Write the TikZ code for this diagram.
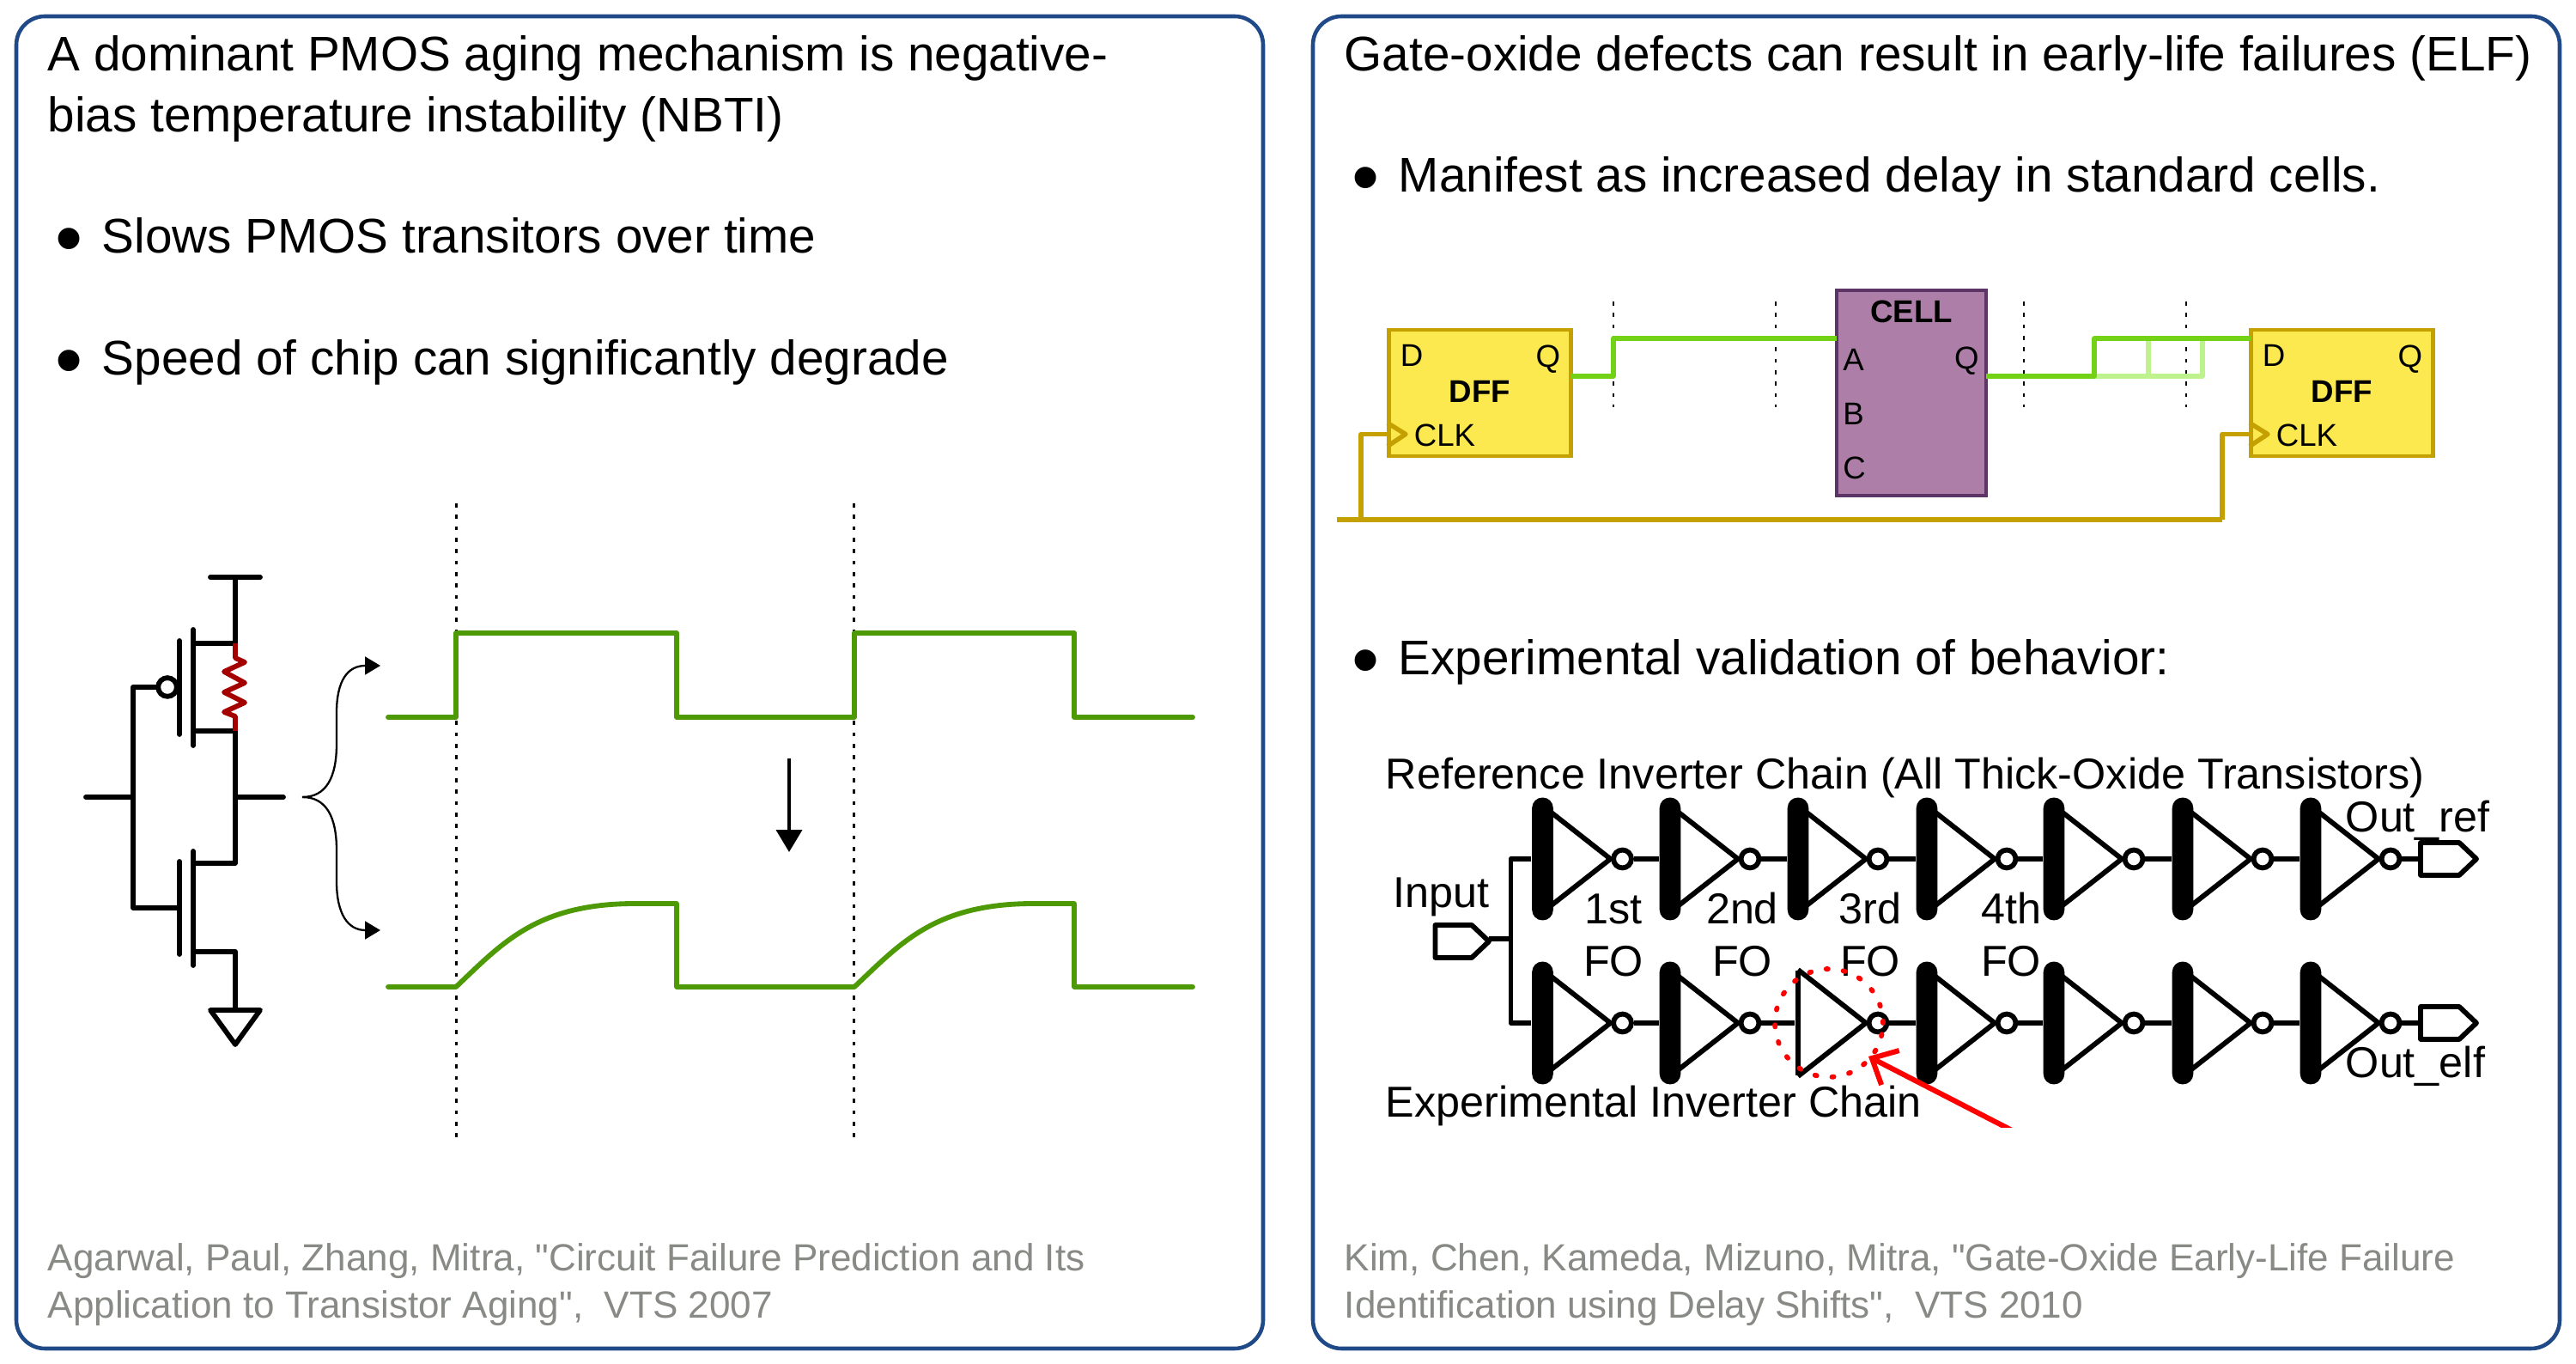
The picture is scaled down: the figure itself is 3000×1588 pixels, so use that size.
\documentclass[tikz,border=0pt]{standalone}
\usepackage{fontspec}
\setmainfont{Liberation Sans}[Ligatures=TeXOff]
\usepackage{xcolor}
\usetikzlibrary{arrows.meta,positioning,calc}
\definecolor{panelblue}{HTML}{204A87}
\definecolor{citegray}{HTML}{888A85}
\definecolor{wavegreen}{HTML}{4E9A06}
\definecolor{siggreen}{HTML}{73D216}
\definecolor{fadegreen}{HTML}{BEF28C}
\definecolor{dffyellow}{HTML}{FCE94F}
\definecolor{dffedge}{HTML}{C4A000}
\definecolor{cellplum}{HTML}{AD7FA8}
\definecolor{celledge}{HTML}{5C3566}
\definecolor{resred}{HTML}{A40000}
\tikzset{
	panel/.style={draw=panelblue, line width=1.1pt, rounded corners=8pt},
	txt/.style={anchor=base west, inner sep=0pt, font=\fontsize{13.6}{16}\selectfont},
	bul/.style={anchor=base, inner sep=0pt, font=\fontsize{22}{22}\selectfont},
	cite/.style={txt, text=citegray, font=\fontsize{10.57}{13}\selectfont},
	ckt/.style={line width=1.4pt, line cap=round, line join=round},
	wave/.style={draw=wavegreen, line width=1.4pt, line cap=round, line join=round},
	dots/.style={line width=0.7pt, dash pattern=on 1.1pt off 2.1pt},
	brace/.style={line width=0.55pt, -{Triangle[length=4.3pt,width=5pt]}},
	dffbox/.style={draw=dffedge, fill=dffyellow, line width=1.1pt, minimum width=51pt, minimum height=35.2pt, inner sep=0pt},
	cellbox/.style={draw=celledge, fill=cellplum, line width=1.1pt, minimum width=41.8pt, minimum height=57.4pt, inner sep=0pt},
	pin/.style={inner sep=0pt, font=\fontsize{8.8}{10}\selectfont},
	pinb/.style={pin, font=\fontsize{8.8}{10}\selectfont\bfseries},
	sigwire/.style={draw=siggreen, line width=1.3pt, line join=round},
	sigfade/.style={draw=fadegreen, line width=1.3pt, line join=round},
	clkwire/.style={draw=dffedge, line width=1.3pt, line join=round},
	invbar/.style={fill=black, rounded corners=2.9pt, minimum width=5.9pt, minimum height=34.3pt, inner sep=0pt},
	invthin/.style={fill=black, minimum width=1.3pt, minimum height=29.5pt, inner sep=0pt},
	invline/.style={line width=1.4pt, line join=round},
	bubble/.style={circle, draw, fill=white, line width=1.4pt, minimum size=5pt, inner sep=0pt},
	lab/.style={anchor=base, inner sep=0pt, font=\fontsize{12.08}{14}\selectfont},
	labw/.style={lab, anchor=base west},
}
\begin{document}
\begin{tikzpicture}[x=0.24pt,y=-0.24pt]
	\useasboundingbox (0,0) rectangle (3000,1588);
	\draw[panel] (19,19) rectangle (1471,1570);
	\draw[panel] (1529,19) rectangle (2981,1570);

	\node[txt] (ltitlea) at (55,83) {A dominant PMOS aging mechanism is negative-};
	\node[txt] (ltitleb) at (55,154) {bias temperature instability (NBTI)};
	\node[bul] (lbula) at (81,309) {•};
	\node[txt] (ltexta) at (118,295) {Slows PMOS transitors over time};
	\node[bul] (lbulb) at (81,451) {•};
	\node[txt] (ltextb) at (118,437) {Speed of chip can significantly degrade};
	\node[cite] (lcitea) at (55,1480) {Agarwal, Paul, Zhang, Mitra, "Circuit Failure Prediction and Its};
	\node[cite] (lciteb) at (55,1535) {Application to Transistor Aging",\ \ VTS 2007};

	\node[txt] (rtitle) at (1565,83) {Gate-oxide defects can result in early-life failures (ELF)};
	\node[bul] (rbula) at (1591,238) {•};
	\node[txt] (rtexta) at (1628,224) {Manifest as increased delay in standard cells.};
	\node[bul] (rbulb) at (1591,800) {•};
	\node[txt] (rtextb) at (1628,786) {Experimental validation of behavior:};
	\node[cite] (rcitea) at (1565,1480) {Kim, Chen, Kameda, Mizuno, Mitra, "Gate-Oxide Early-Life Failure};
	\node[cite] (rciteb) at (1565,1535) {Identification using Delay Shifts",\ \ VTS 2010};

	% inverter schematic
	\coordinate (vdd) at (274,672);
	\coordinate (psrc) at (274,749);
	\coordinate (pdrn) at (274,851);
	\coordinate (ndrn) at (274,1005);
	\coordinate (nsrc) at (274,1108);
	\coordinate (gnd) at (274,1176);
	\coordinate (gnda) at (245,1176);
	\coordinate (gndb) at (303,1176);
	\coordinate (gndc) at (274,1216);
	\coordinate (inl) at (100,928);
	\coordinate (inj) at (155,928);
	\coordinate (outr) at (330,928);
	\coordinate (outj) at (274,928);
	\coordinate (pch) at (225,800);
	\coordinate (nch) at (225,1057);
	\node[circle, draw, line width=1.4pt, minimum size=5.2pt, inner sep=0pt] (pbub) at (195,800) {};
	\draw[ckt] (245,672) -- (303,672);
	\draw[ckt] (vdd) -- (psrc) -- (psrc -| pch);
	\draw[ckt] (225,733) -- (225,868);
	\draw[ckt] (209,746) -- (209,855);
	\draw[ckt] (pdrn -| pch) -- (pdrn) -- (ndrn) -- (ndrn -| pch);
	\draw[ckt] (225,991) -- (225,1124);
	\draw[ckt] (209,1003) -- (209,1111);
	\draw[ckt] (nsrc -| pch) -- (nsrc) -- (gnd);
	\draw[ckt] (gnda) -- (gndb) -- (gndc) -- cycle;
	\draw[ckt] (pbub) -- (inj |- pbub) -- (inj |- nch) -- (209,1057);
	\draw[ckt] (inl) -- (inj);
	\draw[ckt] (outj) -- (outr);
	\draw[line width=1.4pt, draw=resred, line join=round] (psrc) -- (274,766) -- (285,771) -- (261,782) -- (285,795) -- (261,806) -- (285,818) -- (261,829) -- (274,834) -- (pdrn);

	% brace to the waveforms
	\coordinate (broot) at (352,928);
	\coordinate (brtop) at (443,775);
	\coordinate (brbot) at (443,1083);
	\draw[brace] (broot) .. controls (380,928) and (392,905) .. (392,866) -- (392,830) .. controls (392,792) and (405,775) .. (brtop);
	\draw[brace] (broot) .. controls (380,928) and (392,951) .. (392,990) -- (392,1026) .. controls (392,1064) and (405,1083) .. (brbot);

	% waveforms
	\draw[dots] (531.5,586) -- (531.5,1326);
	\draw[dots] (994.5,586) -- (994.5,1326);
	\draw[wave] (452,835) -- (531,835) -- (531,737) -- (788,737) -- (788,835) -- (995,835) -- (995,737) -- (1251,737) -- (1251,835) -- (1389,835);
	\draw[wave] (452,1149) -- (531,1149) .. controls (585,1098) and (625,1052) .. (740,1052) -- (788,1052) -- (788,1149) -- (995,1149) .. controls (1049,1098) and (1089,1052) .. (1204,1052) -- (1251,1052) -- (1251,1149) -- (1389,1149);
	\coordinate (shifta) at (919,883);
	\coordinate (shiftb) at (919,992);
	\draw[line width=0.85pt, -{Triangle[length=6.2pt,width=7.2pt]}] (shifta) -- (shiftb);

	% flop to flop path
	\foreach \xx in {1879,2068,2357,2546} {
		\draw[dots] (\xx,351) -- (\xx,474);
	}
	\node[dffbox] (dffa) at (1723.5,457.5) {};
	\node[dffbox] (dffb) at (2727.5,457.5) {};
	\node[cellbox] (cell) at (2226,457.5) {};
	\coordinate (dffaq) at (1830,438);
	\coordinate (risea) at (1879,394);
	\coordinate (cella) at (2139,394);
	\coordinate (cellq) at (2313,438);
	\coordinate (riseb) at (2439,394);
	\coordinate (fadea) at (2502,394);
	\coordinate (fadeb) at (2565,394);
	\coordinate (dffbd) at (2621,394);
	\draw[sigfade] (riseb |- cellq) -| (fadeb);
	\draw[sigfade] (fadea) -- (fadea |- cellq);
	\draw[sigwire] (dffaq) -| (risea) -- (cella);
	\draw[sigwire] (cellq) -| (riseb) -- (dffbd);
	\coordinate (clkstart) at (1557,605);
	\coordinate (clka) at (1585,605);
	\coordinate (clkb) at (2588,605);
	\draw[clkwire] (clkstart) -- (clkb);
	\draw[clkwire] (clka) |- ($(dffa.west)+(0,48)$);
	\draw[clkwire] (clkb) |- ($(dffb.west)+(0,48)$);
	\foreach \ff in {dffa,dffb} {
		\draw[clkwire] ($(\ff.west)+(1,35)$) -- ($(\ff.west)+(22,48)$) -- ($(\ff.west)+(1,62)$);
		\node[pin, anchor=base west] (\ff d) at ($(\ff.west)+(15,-31)$) {D};
		\node[pin, anchor=base east] (\ff q) at ($(\ff.east)+(-14,-30)$) {Q};
		\node[pinb, anchor=base] (\ff n) at ($(\ff)+(0,11)$) {DFF};
		\node[pin, anchor=base west] (\ff c) at ($(\ff.west)+(31,62)$) {CLK};
	}
	\node[pinb, anchor=base] (celln) at ($(cell.north)+(0,40)$) {CELL};
	\node[pin, anchor=base west] (cellpa) at ($(cell.west)+(9,-26)$) {A};
	\node[pin, anchor=base west] (cellpb) at ($(cell.west)+(9,37)$) {B};
	\node[pin, anchor=base west] (cellpc) at ($(cell.west)+(9,100)$) {C};
	\node[pin, anchor=base east] (cellpq) at ($(cell.east)+(-10,-28)$) {Q};

	% inverter chains
	\foreach \i/\xx/\bar in {1/1796.5/invbar,2/1945/invbar,3/2094/invbar,4/2244/invbar,5/2392/invbar,6/2542/invbar,7/2691/invbar} {
		\draw[invline] (\xx,938) -- (\xx+79,1000) -- (\xx,1062);
		\node[\bar] (ta\i) at (\xx,1000) {};
		\node[bubble] (tb\i) at (\xx+93,1000) {};
	}
	\foreach \i/\xx/\bar in {1/1796.5/invbar,2/1945/invbar,3/2094/invthin,4/2244/invbar,5/2392/invbar,6/2542/invbar,7/2691/invbar} {
		\draw[invline] (\xx,1129) -- (\xx+79,1191) -- (\xx,1253);
		\node[\bar] (ba\i) at (\xx,1191) {};
		\node[bubble] (bb\i) at (\xx+93,1191) {};
	}
	\foreach \i/\j in {1/2,2/3,3/4,4/5,5/6,6/7} {
		\draw[invline] (tb\i) -- (ta\j);
		\draw[invline] (bb\i) -- (ba\j);
	}
	\coordinate (split) at (1759.5,1093);
	\draw[invline] (ta1) -| (split) |- (ba1);
	\draw[invline] (1671.5,1077) -- (1714,1077) -- (1734,1096) -- (1714,1115) -- (1671.5,1115) -- cycle;
	\draw[invline] (1734,1093) -- (split);
	\coordinate (outrefp) at (2819,1000);
	\coordinate (outelfp) at (2819,1191);
	\draw[invline] (tb7) -- (outrefp);
	\draw[invline] (bb7) -- (outelfp);
	\foreach \pp in {outrefp,outelfp} {
		\draw[invline] (\pp) -- ++(0,-19) -- ++(45,0) -- ++(20,19) -- ++(-20,19) -- ++(-45,0) -- cycle;
	}

	\node[labw] (reflab) at (1613,919) {Reference Inverter Chain (All Thick-Oxide Transistors)};
	\node[labw] (explab) at (1613,1301) {Experimental Inverter Chain};
	\node[labw] (inlab) at (1622,1057) {Input};
	\node[labw] (outreflab) at (2731,969) {Out\_ref};
	\node[labw] (outelflab) at (2731,1255) {Out\_elf};
	\foreach \i/\xx/\tt in {1/1879/1st,2/2029/2nd,3/2178/3rd,4/2342/4th} {
		\node[lab] (ord\i) at (\xx,1076) {\tt};
		\node[lab] (fo\i) at (\xx,1137) {FO};
	}

	% marked inverter
	\node[circle, draw=red, line width=1.4pt, dash pattern=on 0.5pt off 4.3pt, line cap=round, minimum size=30.2pt, inner sep=0pt] (elfring) at (2130,1191) {};
	\coordinate (elftip) at (2176,1230);
	\coordinate (elftail) at (2345,1317);
	\begin{scope}
		\clip (2100,1190) rectangle (2400,1313);
		\draw[red, line width=1.45pt, -{Straight Barb[length=5.8pt,width=10.8pt]}] (elftail) -- (elftip);
	\end{scope}
\end{tikzpicture}
\end{document}
